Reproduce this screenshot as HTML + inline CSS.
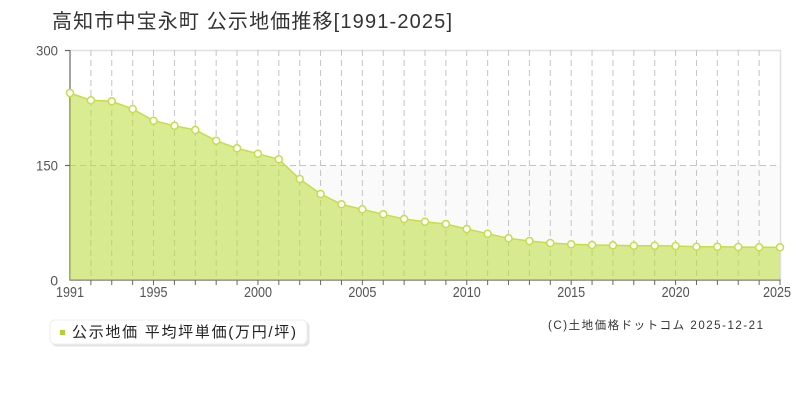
<!DOCTYPE html>
<html><head><meta charset="utf-8"><style>
html,body{margin:0;padding:0;background:#fff;}
svg{display:block;}
</style></head><body>
<svg width="800" height="400" viewBox="0 0 800 400" xmlns="http://www.w3.org/2000/svg">
<rect x="0" y="0" width="800" height="400" fill="#fff"/>
<text x="52" y="28" font-family="'Liberation Sans','Noto Sans CJK JP',sans-serif" font-size="20" fill="#333" textLength="400" lengthAdjust="spacing">高知市中宝永町 公示地価推移[1991-2025]</text>

<!-- lower shaded band -->
<rect x="70" y="165" width="710" height="115" fill="#fbfafb"/>
<!-- frame -->
<line x1="70" y1="50.5" x2="781" y2="50.5" stroke="#e0e0e0" stroke-width="1.5"/>
<line x1="780.5" y1="50" x2="780.5" y2="280" stroke="#e0e0e0" stroke-width="1.5"/>

<!-- grid -->
<g stroke="#c4c4c4" stroke-width="1" stroke-dasharray="6,4" fill="none">
<line x1="70" y1="165.5" x2="780" y2="165.5"/>
<line x1="90.88" y1="50" x2="90.88" y2="280"/>
<line x1="111.76" y1="50" x2="111.76" y2="280"/>
<line x1="132.65" y1="50" x2="132.65" y2="280"/>
<line x1="153.53" y1="50" x2="153.53" y2="280"/>
<line x1="174.41" y1="50" x2="174.41" y2="280"/>
<line x1="195.29" y1="50" x2="195.29" y2="280"/>
<line x1="216.18" y1="50" x2="216.18" y2="280"/>
<line x1="237.06" y1="50" x2="237.06" y2="280"/>
<line x1="257.94" y1="50" x2="257.94" y2="280"/>
<line x1="278.82" y1="50" x2="278.82" y2="280"/>
<line x1="299.71" y1="50" x2="299.71" y2="280"/>
<line x1="320.59" y1="50" x2="320.59" y2="280"/>
<line x1="341.47" y1="50" x2="341.47" y2="280"/>
<line x1="362.35" y1="50" x2="362.35" y2="280"/>
<line x1="383.24" y1="50" x2="383.24" y2="280"/>
<line x1="404.12" y1="50" x2="404.12" y2="280"/>
<line x1="425" y1="50" x2="425" y2="280"/>
<line x1="445.88" y1="50" x2="445.88" y2="280"/>
<line x1="466.76" y1="50" x2="466.76" y2="280"/>
<line x1="487.65" y1="50" x2="487.65" y2="280"/>
<line x1="508.53" y1="50" x2="508.53" y2="280"/>
<line x1="529.41" y1="50" x2="529.41" y2="280"/>
<line x1="550.29" y1="50" x2="550.29" y2="280"/>
<line x1="571.18" y1="50" x2="571.18" y2="280"/>
<line x1="592.06" y1="50" x2="592.06" y2="280"/>
<line x1="612.94" y1="50" x2="612.94" y2="280"/>
<line x1="633.82" y1="50" x2="633.82" y2="280"/>
<line x1="654.71" y1="50" x2="654.71" y2="280"/>
<line x1="675.59" y1="50" x2="675.59" y2="280"/>
<line x1="696.47" y1="50" x2="696.47" y2="280"/>
<line x1="717.35" y1="50" x2="717.35" y2="280"/>
<line x1="738.24" y1="50" x2="738.24" y2="280"/>
<line x1="759.12" y1="50" x2="759.12" y2="280"/>
</g>

<!-- axes -->
<g stroke="#666" stroke-width="1.2" fill="none">
<line x1="70" y1="50" x2="70" y2="280.5"/>
<line x1="69.5" y1="280" x2="780.5" y2="280"/>
<line x1="65" y1="50.5" x2="70" y2="50.5"/>
<line x1="65" y1="165.5" x2="70" y2="165.5"/>
</g>
<g stroke="#666" stroke-width="1">
<line x1="90.88" y1="280" x2="90.88" y2="285"/>
<line x1="111.76" y1="280" x2="111.76" y2="285"/>
<line x1="132.65" y1="280" x2="132.65" y2="285"/>
<line x1="153.53" y1="280" x2="153.53" y2="285"/>
<line x1="174.41" y1="280" x2="174.41" y2="285"/>
<line x1="195.29" y1="280" x2="195.29" y2="285"/>
<line x1="216.18" y1="280" x2="216.18" y2="285"/>
<line x1="237.06" y1="280" x2="237.06" y2="285"/>
<line x1="257.94" y1="280" x2="257.94" y2="285"/>
<line x1="278.82" y1="280" x2="278.82" y2="285"/>
<line x1="299.71" y1="280" x2="299.71" y2="285"/>
<line x1="320.59" y1="280" x2="320.59" y2="285"/>
<line x1="341.47" y1="280" x2="341.47" y2="285"/>
<line x1="362.35" y1="280" x2="362.35" y2="285"/>
<line x1="383.24" y1="280" x2="383.24" y2="285"/>
<line x1="404.12" y1="280" x2="404.12" y2="285"/>
<line x1="425" y1="280" x2="425" y2="285"/>
<line x1="445.88" y1="280" x2="445.88" y2="285"/>
<line x1="466.76" y1="280" x2="466.76" y2="285"/>
<line x1="487.65" y1="280" x2="487.65" y2="285"/>
<line x1="508.53" y1="280" x2="508.53" y2="285"/>
<line x1="529.41" y1="280" x2="529.41" y2="285"/>
<line x1="550.29" y1="280" x2="550.29" y2="285"/>
<line x1="571.18" y1="280" x2="571.18" y2="285"/>
<line x1="592.06" y1="280" x2="592.06" y2="285"/>
<line x1="612.94" y1="280" x2="612.94" y2="285"/>
<line x1="633.82" y1="280" x2="633.82" y2="285"/>
<line x1="654.71" y1="280" x2="654.71" y2="285"/>
<line x1="675.59" y1="280" x2="675.59" y2="285"/>
<line x1="696.47" y1="280" x2="696.47" y2="285"/>
<line x1="717.35" y1="280" x2="717.35" y2="285"/>
<line x1="738.24" y1="280" x2="738.24" y2="285"/>
<line x1="759.12" y1="280" x2="759.12" y2="285"/>
<line x1="780" y1="280" x2="780" y2="285"/>
</g>

<!-- area fill -->
<polygon fill="rgba(188,220,56,0.55)" points="70,280 70,93 90.88,100.3 111.76,101.3 132.65,109 153.53,120.7 174.41,125.7 195.29,130 216.18,140.7 237.06,148.3 257.94,153.7 278.82,159.3 299.71,179 320.59,194 341.47,204.3 362.35,209.3 383.24,214.3 404.12,219 425,221.7 445.88,224 466.76,229 487.65,233.7 508.53,238.3 529.41,241 550.29,243 571.18,244.3 592.06,245 612.94,245.3 633.82,245.7 654.71,245.7 675.59,246 696.47,246.7 717.35,246.7 738.24,247 759.12,247.3 780,247.3 780,280"/>
<polyline fill="none" stroke="#c4de48" stroke-width="1.5" points="70,93 90.88,100.3 111.76,101.3 132.65,109 153.53,120.7 174.41,125.7 195.29,130 216.18,140.7 237.06,148.3 257.94,153.7 278.82,159.3 299.71,179 320.59,194 341.47,204.3 362.35,209.3 383.24,214.3 404.12,219 425,221.7 445.88,224 466.76,229 487.65,233.7 508.53,238.3 529.41,241 550.29,243 571.18,244.3 592.06,245 612.94,245.3 633.82,245.7 654.71,245.7 675.59,246 696.47,246.7 717.35,246.7 738.24,247 759.12,247.3 780,247.3"/>
<g fill="#fff" stroke="#c4de48" stroke-width="1.5">
<circle cx="70" cy="93" r="3.5"/><circle cx="90.88" cy="100.3" r="3.5"/><circle cx="111.76" cy="101.3" r="3.5"/><circle cx="132.65" cy="109" r="3.5"/><circle cx="153.53" cy="120.7" r="3.5"/><circle cx="174.41" cy="125.7" r="3.5"/><circle cx="195.29" cy="130" r="3.5"/><circle cx="216.18" cy="140.7" r="3.5"/><circle cx="237.06" cy="148.3" r="3.5"/><circle cx="257.94" cy="153.7" r="3.5"/><circle cx="278.82" cy="159.3" r="3.5"/><circle cx="299.71" cy="179" r="3.5"/><circle cx="320.59" cy="194" r="3.5"/><circle cx="341.47" cy="204.3" r="3.5"/><circle cx="362.35" cy="209.3" r="3.5"/><circle cx="383.24" cy="214.3" r="3.5"/><circle cx="404.12" cy="219" r="3.5"/><circle cx="425" cy="221.7" r="3.5"/><circle cx="445.88" cy="224" r="3.5"/><circle cx="466.76" cy="229" r="3.5"/><circle cx="487.65" cy="233.7" r="3.5"/><circle cx="508.53" cy="238.3" r="3.5"/><circle cx="529.41" cy="241" r="3.5"/><circle cx="550.29" cy="243" r="3.5"/><circle cx="571.18" cy="244.3" r="3.5"/><circle cx="592.06" cy="245" r="3.5"/><circle cx="612.94" cy="245.3" r="3.5"/><circle cx="633.82" cy="245.7" r="3.5"/><circle cx="654.71" cy="245.7" r="3.5"/><circle cx="675.59" cy="246" r="3.5"/><circle cx="696.47" cy="246.7" r="3.5"/><circle cx="717.35" cy="246.7" r="3.5"/><circle cx="738.24" cy="247" r="3.5"/><circle cx="759.12" cy="247.3" r="3.5"/><circle cx="780" cy="247.3" r="3.5"/>
</g>

<!-- y labels -->
<g font-family="'Liberation Sans',sans-serif" font-size="14" fill="#555" text-anchor="end">
<text x="58" y="55.5" textLength="22" lengthAdjust="spacingAndGlyphs">300</text>
<text x="58" y="170.5" textLength="22" lengthAdjust="spacingAndGlyphs">150</text>
<text x="58" y="285.5">0</text>
</g>
<!-- x labels -->
<g font-family="'Liberation Sans',sans-serif" font-size="15" fill="#555" text-anchor="middle">
<text x="70" y="297" textLength="28" lengthAdjust="spacingAndGlyphs">1991</text>
<text x="153.5" y="297" textLength="28" lengthAdjust="spacingAndGlyphs">1995</text>
<text x="258" y="297" textLength="28" lengthAdjust="spacingAndGlyphs">2000</text>
<text x="362.4" y="297" textLength="28" lengthAdjust="spacingAndGlyphs">2005</text>
<text x="466.8" y="297" textLength="28" lengthAdjust="spacingAndGlyphs">2010</text>
<text x="571.2" y="297" textLength="28" lengthAdjust="spacingAndGlyphs">2015</text>
<text x="675.6" y="297" textLength="28" lengthAdjust="spacingAndGlyphs">2020</text>
<text x="777" y="297" textLength="28" lengthAdjust="spacingAndGlyphs">2025</text>
</g>

<!-- legend -->
<rect x="51.5" y="321.5" width="258" height="25" rx="5" fill="#e4e4e4"/>
<rect x="50" y="320" width="257" height="24" rx="5" fill="#fff" stroke="#eeeeee" stroke-width="1"/>
<rect x="60" y="330" width="5" height="5" fill="#b2d234"/>
<text x="72" y="337" font-family="'Liberation Sans','Noto Sans CJK JP',sans-serif" font-size="15" fill="#222" textLength="224" lengthAdjust="spacing">公示地価 平均坪単価(万円/坪)</text>

<!-- copyright -->
<text x="548" y="329" font-family="'Liberation Sans','Noto Sans CJK JP',sans-serif" font-size="11.5" fill="#333" textLength="215" lengthAdjust="spacing">(C)土地価格ドットコム 2025-12-21</text>
</svg>
</body></html>
